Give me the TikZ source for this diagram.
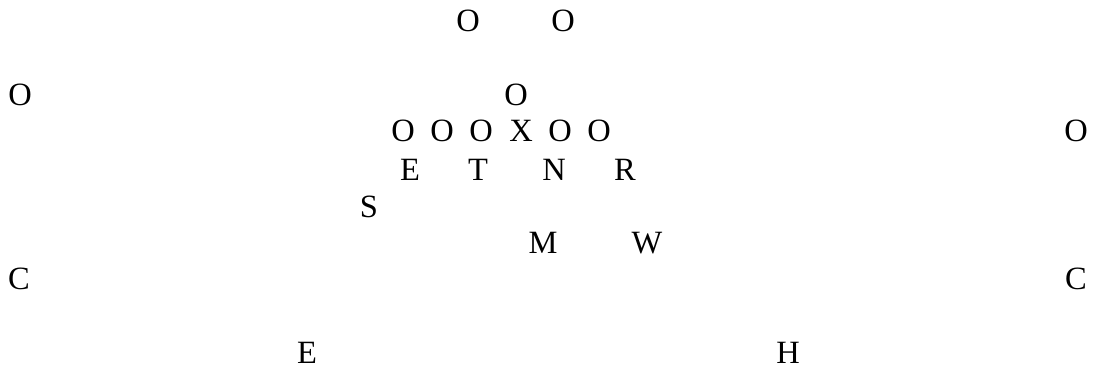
\documentclass[tikz,border=0pt]{standalone}
\usepackage{fontspec}
\setmainfont{Liberation Serif}
\usepackage{tikz}

\begin{document}
\begin{tikzpicture}[x=1pt,y=-1pt,player/.style={inner sep=0pt,font=\fontsize{32.5}{39}\selectfont}]
\useasboundingbox (0,0) rectangle (1093,369);
\node[player] (otopa) at (468,21) {O};
\node[player] (otopb) at (563,21) {O};
\node[player] (owide) at (20,95) {O};
\node[player] (oback) at (516,95) {O};
\node[player] (oline1) at (403,131) {O};
\node[player] (oline2) at (442,131) {O};
\node[player] (oline3) at (481,131) {O};
\node[player] (cross) at (521,131) {X};
\node[player] (oline4) at (560,131) {O};
\node[player] (oline5) at (599,131) {O};
\node[player] (oslot) at (1076,131) {O};
\node[player] (dend) at (410,170) {E};
\node[player] (dtackle) at (478,170) {T};
\node[player] (dnose) at (554,170) {N};
\node[player] (drush) at (625,170) {R};
\node[player] (sam) at (369,207) {S};
\node[player] (mike) at (543,243) {M};
\node[player] (will) at (647,243) {W};
\node[player] (cornl) at (19,279) {C};
\node[player] (cornr) at (1076,279) {C};
\node[player] (safe) at (307,353) {E};
\node[player] (safh) at (788,353) {H};
\end{tikzpicture}
\end{document}
